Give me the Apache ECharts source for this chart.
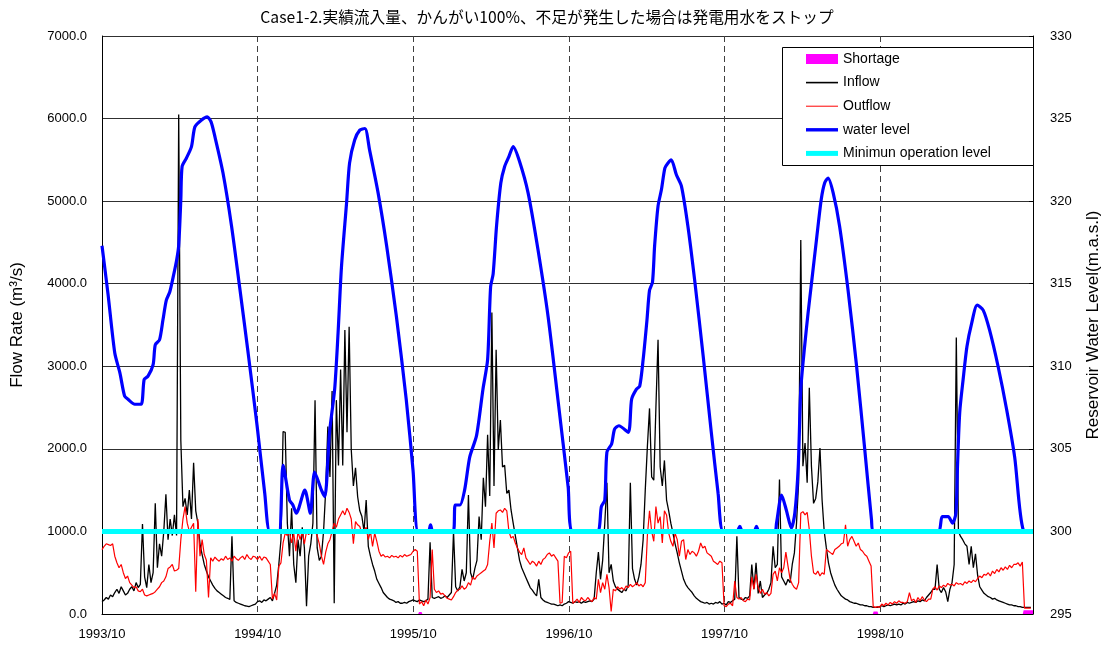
<!DOCTYPE html>
<html><head><meta charset="utf-8">
<script src="https://cdn.jsdelivr.net/npm/echarts@6/dist/echarts.min.js"></script>
<style>html,body{margin:0;padding:0;background:#fff}#chart{width:1108px;height:648px}</style>
</head><body><div id="chart"></div>
<script>
// ---- data ----
const titleText = 'Case1-2.実績流入量、かんがい100%、不足が発生した場合は発電用水をストップ';
const startDate = '1993-10-01';      // day 0 of the x axis
const stepDays = 5;                  // flow samples every 5 days
const xEndDay = 2185;                // last day shown (1999/09 end)
const yearDays = 365.25;
const xTickLabels = ['1993/10', '1994/10', '1995/10', '1996/10', '1997/10', '1998/10'];
const seriesNames = ['Shortage', 'Inflow', 'Outflow', 'water level', 'Minimun operation level'];

// Inflow (m3/s), one value every 5 days from 1993/10/01
const inflow = [
  // 1993/10 - 1994/09
  150,170,200,180,230,210,260,300,250,330, 280,230,250,300,330,280,380,320,360,1090,
  450,320,600,380,500,1340,560,850,700,1000, 1450,900,1150,950,1200,950,6050,2100,1300,1400,
  1200,1500,1150,1830,1250,1100,850,720,600,520, 450,400,350,310,280,260,240,220,200,190,
  175,940,160,140,130,120,110,100,95,90, 100,110,120,
  // 1994/10 - 1995/09
  150,160,140,170,160,180,200,160,250,350, 600,900,2210,2200,1100,700,1280,600,380,900,
  700,1050,800,93,700,850,1100,2590,800,650, 700,1000,1500,2270,1660,2700,130,2590,1800,2960,
  1800,3440,2200,3480,1990,1550,1770,1420,1250,1180, 1000,1380,820,700,600,520,420,370,320,260,
  230,200,180,170,160,140,150,130,130,140, 130,150,160,
  // 1995/10 - 1996/09
  170,160,150,170,160,150,160,180,870,200, 190,200,210,190,200,220,200,230,260,1000,
  330,280,330,540,400,500,1440,500,420,550, 650,1180,900,1650,1300,2170,1430,3650,1550,3200,
  1990,2350,1780,1800,1460,1500,1260,1100,950,800, 650,560,500,440,380,320,290,250,220,420,
  200,170,150,140,130,120,120,110,100,110, 100,120,130,
  // 1996/10 - 1997/09
  150,140,130,150,140,150,130,150,140,150, 160,150,180,500,750,420,650,1100,1590,500,
  600,400,330,300,280,260,300,280,350,1590, 550,420,350,450,600,900,1500,2030,2490,1660,
  1620,2500,3320,1780,1550,1860,1380,1250,1100,980, 850,740,620,520,420,360,320,290,260,220,
  190,170,150,140,130,140,120,130,120,140, 130,150,120,
  // 1997/10 - 1998/09
  130,110,150,140,160,180,940,200,180,170, 200,190,220,600,300,620,250,400,200,230,
  250,300,380,820,560,600,1630,450,400,350, 420,380,600,740,1100,1600,4530,1790,2070,1590,
  2740,1790,1340,1400,1600,2010,1380,1000,800,620, 500,420,350,300,260,220,200,180,170,150,
  140,130,130,120,110,110,100,100,90,90, 80,80,80,
  // 1998/10 - 1999/09
  90,100,90,100,110,100,110,120,110,120, 110,130,120,140,130,140,150,140,160,150,
  170,160,200,230,260,300,300,600,300,260, 320,270,150,300,380,600,3350,1000,940,900,
  850,820,600,820,560,730,470,330,290,250, 230,210,200,180,190,170,160,150,140,130,
  120,110,110,100,100,90,90,80,80,80, 80,80
];

// Outflow (m3/s), one value every 5 days from 1993/10/01
const outflow = [
  // 1993/10 - 1994/09
  780,820,850,840,830,850,700,620,560,600, 500,430,460,380,350,320,330,280,270,300,
  230,220,230,240,250,270,300,330,380,400, 450,550,570,600,520,530,550,900,1150,1300,
  1100,1000,1050,1100,270,1150,700,900,720,650, 200,680,640,690,660,640,670,650,700,660,
  680,640,700,670,650,680,700,660,720,680, 660,700,690,
  // 1994/10 - 1995/09
  660,700,650,690,680,640,600,180,250,170, 580,620,860,980,950,1000,860,980,760,1000,
  900,1000,850,1000,960,1000,980,1000,950,850, 700,600,750,850,900,1000,1100,1050,1150,1200,
  1250,1200,1280,1230,1150,850,1120,1080,1060,980, 1020,1050,900,1000,820,980,880,760,700,720,
  690,700,680,710,690,700,680,710,690,720, 700,710,720,
  // 1995/10 - 1996/09
  760,780,760,120,150,100,170,120,200,780, 300,260,280,240,250,220,190,180,170,210,
  260,290,300,340,300,320,380,350,450,420, 460,480,500,520,540,600,880,1100,800,1220,
  1250,1260,1230,1280,1250,1000,920,940,860,800, 750,720,800,680,640,600,640,620,580,640,
  600,660,680,720,740,700,720,680,640,130, 140,700,680,
  // 1996/10 - 1997/09
  740,760,130,150,180,140,200,170,160,200, 170,150,200,180,420,260,380,300,480,320,
  30,300,280,330,300,320,290,340,320,360, 330,350,380,340,360,330,380,950,1250,1000,
  880,1300,1100,1180,860,1250,1200,980,880,820, 980,900,700,880,900,660,780,720,760,740,
  700,760,860,800,820,740,720,700,640,620, 600,640,620,
  // 1997/10 - 1998/09
  100,90,120,130,100,400,200,180,200,160, 150,180,170,450,300,480,320,250,300,240,
  260,220,250,480,520,400,560,500,560,750, 580,420,360,320,300,380,1220,1240,1200,1230,
  1020,700,500,480,520,460,500,480,780,760, 740,720,780,800,820,850,860,1080,820,900,
  940,880,820,860,780,760,720,700,640,580, 90,80,90,
  // 1998/10 - 1999/09
  80,120,100,130,110,140,120,150,130,160, 140,140,130,150,260,160,180,140,200,160,
  210,170,150,180,180,300,330,290,340,320, 350,330,370,350,360,340,380,360,370,350,
  390,370,400,380,410,390,430,460,440,480, 470,500,460,520,490,540,510,560,530,570,
  540,590,560,600,600,620,580,630,70,70, 70,70
];

// Reservoir water level (m.a.s.l) at days since 1993/10/01
const levelDays = [
  0,14,30,42,53,61,77,92,99,108,120,125,135,143,151,159,167,175,180,185,188,198,210,218,233,247,256,265,284,304,323,343,364,382,394,
  415,425,440,448,456,476,489,499,515,523,534,546,554,562,574,581,593,605,617,628,648,668,691,714,730,742,
  766,771,777,824,829,840,851,863,879,894,905,912,918,926,936,945,955,965,980,1000,1023,1047,1070,1094,1105,
  1162,1172,1180,1185,1196,1203,1213,1235,1243,1254,1262,1270,1279,1285,1292,1297,1305,1313,1321,1328,1336,1348,1360,1375,1391,1411,1430,1446,1458,
  1490,1497,1503,1530,1536,1542,1579,1583,1595,1606,1618,1626,1634,1640,1649,1657,1665,1677,1688,1696,1704,1716,1731,1751,1771,1790,1806,1810,
  1962,1972,1986,1996,2004,2008,2013,2021,2030,2041,2054,2068,2083,2103,2123,2142,2162,2185
];
const levelValues = [
  317.3,314.4,310.8,309.6,308.2,308.0,307.7,307.7,309.2,309.4,310.1,311.3,311.6,312.8,314.0,314.5,315.4,316.4,317.3,320.1,322.1,322.6,323.3,324.5,324.9,325.1,324.8,323.9,321.7,318.5,314.8,310.8,306.4,302.3,300.0,
  300.0,304.0,301.9,301.6,301.1,302.5,301.1,303.6,302.5,302.1,306.0,308.6,312.0,316.0,319.9,322.3,323.7,324.3,324.4,323.1,320.5,317.3,313.0,308.0,303.7,300.0,
  300.0,300.4,300.0,300.0,301.6,301.6,302.5,304.5,305.8,308.6,310.4,314.8,315.6,318.5,321.1,322.1,322.7,323.3,322.4,320.5,317.1,313.0,308.0,302.7,300.0,
  300.0,301.5,301.9,304.8,305.3,306.2,306.4,306.0,308.0,308.6,308.8,310.4,312.8,314.6,315.1,317.3,319.7,320.7,322.0,322.3,322.5,321.6,320.9,318.5,315.2,310.6,306.0,302.3,300.0,
  300.0,300.3,300.0,300.0,300.3,300.0,300.0,300.5,302.2,301.3,300.2,301.1,303.9,308.6,311.2,313.2,315.0,317.7,320.1,321.1,321.4,320.5,318.5,314.6,310.0,305.0,300.7,300.0,
  300.0,300.9,300.9,300.5,301.1,304.1,307.2,309.2,311.2,312.6,313.7,313.4,312.2,310.0,307.4,304.5,300.1,300.0
];

// Shortage (m3/s) at days since 1993/10/01
const shortageDays   = [0, 742, 744, 750, 752, 1809, 1811, 1820, 1822, 2161, 2163, 2185];
const shortageValues = [0,   0,  25,  25,   0,    0,   30,   30,    0,    0,   45,   45];

const minOperationLevel = 300;

// ---- chart ----
const inflowData = inflow.map((v, i) => [i * stepDays, v]);
const outflowData = outflow.map((v, i) => [i * stepDays, v]);
const levelData = levelDays.map((d, i) => [d, levelValues[i]]);
const shortageData = shortageDays.map((d, i) => [d, shortageValues[i]]);
const minData = [[0, minOperationLevel], [xEndDay, minOperationLevel]];

const FONT = "'Liberation Sans', Arial, sans-serif";
const chart = echarts.init(document.getElementById('chart'), null, {renderer: 'canvas'});
chart.setOption({
  animation: false,
  backgroundColor: '#ffffff',
  textStyle: {fontFamily: FONT, color: '#000'},
  title: {
    text: titleText, left: 542, top: 4, textAlign: 'center',
    textStyle: {fontFamily: "'Noto Sans CJK JP', sans-serif", fontSize: 15.7, fontWeight: 'normal', color: '#000'}
  },
  grid: {left: 102, right: 75, top: 36, bottom: 34, containLabel: false, outerBoundsMode: 'none'},
  legend: {
    orient: 'vertical', left: 806, top: 52, z: 20,
    itemWidth: 32, itemHeight: 14, itemGap: 9.6, padding: 0,
    textStyle: {fontFamily: FONT, fontSize: 14, color: '#000', lineHeight: 14},
    data: [
      {name: seriesNames[0], icon: 'path://M0,0H32V10H0Z', itemStyle: {color: '#FF00FF'}},
      {name: seriesNames[1], icon: 'path://M0,0H32V1.6H0Z', itemStyle: {color: '#000000'}},
      {name: seriesNames[2], icon: 'path://M0,0H32V1H0Z', itemStyle: {color: '#FF0000'}},
      {name: seriesNames[3], icon: 'path://M0,0H32V3.4H0Z', itemStyle: {color: '#0000FF'}},
      {name: seriesNames[4], icon: 'path://M0,0H32V5H0Z', itemStyle: {color: '#00FFFF'}}
    ]
  },
  graphic: [{
    type: 'rect', z: 19, left: 782, top: 47,
    shape: {width: 251, height: 118},
    style: {fill: '#fff', stroke: '#000', lineWidth: 1}
  }],
  xAxis: {
    type: 'value', min: 0, max: xEndDay, interval: yearDays,
    axisLine: {lineStyle: {color: '#000', width: 1}},
    axisTick: {show: false},
    axisLabel: {
      fontSize: 13, color: '#000', margin: 14, showMaxLabel: false,
      formatter: v => xTickLabels[Math.round(v / yearDays)] || ''
    },
    splitLine: {show: true, lineStyle: {color: '#404040', type: [6, 4], width: 1}}
  },
  yAxis: [{
    type: 'value', position: 'left', min: 0, max: 7000, interval: 1000,
    name: 'Flow Rate (m³/s)', nameLocation: 'middle', nameGap: 76, nameRotate: 90,
    nameTextStyle: {fontSize: 17, color: '#000', fontFamily: FONT},
    axisLine: {show: true, lineStyle: {color: '#000', width: 1}},
    axisTick: {show: false},
    axisLabel: {fontSize: 13, color: '#000', margin: 15, formatter: v => v.toFixed(1)},
    splitLine: {show: true, lineStyle: {color: '#303030', width: 1}}
  }, {
    type: 'value', position: 'right', min: 295, max: 330, interval: 5,
    name: 'Reservoir Water Level(m.a.s.l)', nameLocation: 'middle', nameGap: 52, nameRotate: 90,
    nameTextStyle: {fontSize: 17, color: '#000', fontFamily: FONT},
    axisLine: {show: true, lineStyle: {color: '#000', width: 1}},
    axisTick: {show: true, inside: true, length: 4, lineStyle: {color: '#000'}},
    axisLabel: {fontSize: 13, color: '#000', margin: 17},
    splitLine: {show: false}
  }],
  series: [{
    name: seriesNames[0], type: 'line', yAxisIndex: 0, data: shortageData,
    symbol: 'none', lineStyle: {width: 0, color: '#FF00FF'}, itemStyle: {color: '#FF00FF'},
    areaStyle: {color: '#FF00FF', opacity: 1}, z: 2
  }, {
    name: seriesNames[1], type: 'line', yAxisIndex: 0, data: inflowData,
    symbol: 'none', lineStyle: {width: 1.3, color: '#000'}, itemStyle: {color: '#000'}, z: 3
  }, {
    name: seriesNames[2], type: 'line', yAxisIndex: 0, data: outflowData,
    symbol: 'none', lineStyle: {width: 1.2, color: '#FF0000'}, itemStyle: {color: '#FF0000'}, z: 4
  }, {
    name: seriesNames[3], type: 'line', yAxisIndex: 1, data: levelData,
    symbol: 'none', smooth: 0.25, lineStyle: {width: 3.2, color: '#0000FF'}, itemStyle: {color: '#0000FF'}, z: 5
  }, {
    name: seriesNames[4], type: 'line', yAxisIndex: 1, data: minData,
    symbol: 'none', lineStyle: {width: 5, color: '#00FFFF'}, itemStyle: {color: '#00FFFF'}, z: 6
  }]
});
</script></body></html>
